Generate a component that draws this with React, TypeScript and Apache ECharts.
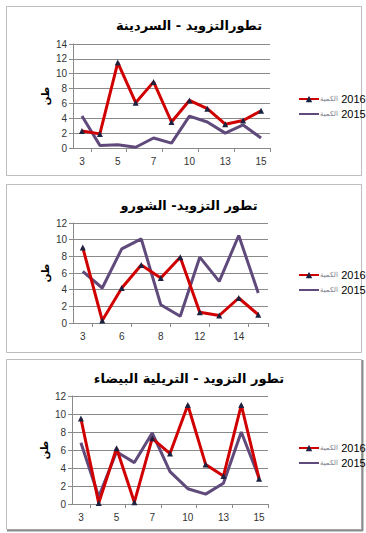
import React, { useEffect, useRef } from 'react';
import * as echarts from 'echarts';

const titles = ['تطورالتزويد - السردينة', 'تطور التزويد- الشورو', 'تطور التزويد - التريلية البيضاء'];
const seriesNames = ['الكمية 2016', 'الكمية 2015'];
const yAxisName = 'طن';

const cats1 = ['3', '4', '5', '6', '7', '9', '10', '12', '13', '14', '15'];
const s1y2016 = [2.3, 1.9, 11.5, 6.1, 8.9, 3.5, 6.4, 5.3, 3.2, 3.7, 5.0];
const s1y2015 = [4.3, 0.35, 0.45, 0.1, 1.35, 0.65, 4.3, 3.5, 2.0, 3.1, 1.35];
const y1Max = 14;

const cats2 = ['3', '5', '6', '7', '8', '10', '12', '13', '14', '15'];
const s2y2016 = [9.05, 0.3, 4.2, 6.95, 5.4, 7.9, 1.3, 0.9, 3.0, 1.0];
const s2y2015 = [6.2, 4.2, 8.9, 10.1, 2.2, 0.8, 7.9, 5.0, 10.5, 3.6];
const y2Max = 12;

const cats3 = ['3', '4', '5', '6', '7', '9', '10', '12', '13', '14', '15'];
const s3y2016 = [9.5, 0.1, 6.2, 0.2, 7.3, 5.6, 11.0, 4.4, 3.1, 11.0, 2.8];
const s3y2015 = [6.8, 0.8, 5.8, 4.6, 7.9, 3.6, 1.7, 1.1, 2.3, 8.0, 2.9];
const y3Max = 12;

const RED = '#d00000';
const PURPLE = '#5f4a7b';
const MARKER = '#1c2340';
const ARABIC_FONT = '"DejaVu Sans", sans-serif';
const NUM_FONT = 'Arial, "Liberation Sans", sans-serif';

const panels = [
  { cats: cats1, a: s1y2016, b: s1y2015, max: y1Max, grid: { left: 73, top: 44, width: 197, height: 104 }, titleY: 23, legendTop: 88, frame: [6.5, 6.5, 355, 169] },
  { cats: cats2, a: s2y2016, b: s2y2015, max: y2Max, grid: { left: 73, top: 223, width: 195, height: 100 }, titleY: 203, legendTop: 264, frame: [6.5, 184.5, 355, 168] },
  { cats: cats3, a: s3y2016, b: s3y2015, max: y3Max, grid: { left: 72, top: 396, width: 196, height: 108 }, titleY: 376, legendTop: 437, frame: [6.5, 359.5, 355, 170] },
];

export default function App() {
  const ref = useRef<HTMLDivElement>(null);
  useEffect(() => {
    document.body.style.margin = '0';
    const chart = echarts.init(ref.current!, undefined, { renderer: 'svg' });
    const option: any = {
      animation: false,
      backgroundColor: '#ffffff',
      title: panels.map((p, i) => ({
        text: titles[i],
        left: 184,
        top: p.titleY - 9,
        textAlign: 'center',
        textStyle: { fontFamily: ARABIC_FONT, fontWeight: 'bold', fontSize: 13, color: '#000' },
      })),
      legend: panels.map((p) => ({
        orient: 'vertical',
        left: 293,
        top: p.legendTop,
        itemWidth: 20,
        itemHeight: 8,
        itemGap: 3,
        data: [
          { name: seriesNames[0] },
          { name: seriesNames[1], itemStyle: { opacity: 0 } },
        ],
        formatter: (name: string) => {
          const parts = name.split(' ');
          return `{a|${parts[0]}} {b|${parts[1]}}`;
        },
        textStyle: {
          padding: [0, 0, 0, -4],
          rich: {
            a: { fontFamily: ARABIC_FONT, fontSize: 7, color: '#7a7a8a' },
            b: { fontFamily: NUM_FONT, fontSize: 11, color: '#000' },
          },
        },
      })),
      grid: panels.map((p) => ({ ...p.grid, containLabel: false })),
      xAxis: panels.map((p, i) => ({
        type: 'category',
        gridIndex: i,
        data: p.cats,
        boundaryGap: true,
        axisLine: { lineStyle: { color: '#8a8a8a', width: 1 } },
        axisTick: { show: true, length: 4, interval: (idx: number) => idx % 2 === 1, lineStyle: { color: '#8a8a8a' } },
        axisLabel: { interval: 1, margin: 8, fontFamily: NUM_FONT, fontSize: 10, color: '#333' },
        splitLine: { show: false },
      })),
      yAxis: panels.map((p, i) => ({
        type: 'value',
        gridIndex: i,
        min: 0,
        max: p.max,
        interval: 2,
        name: yAxisName,
        nameLocation: 'middle',
        nameRotate: 90,
        nameGap: 23,
        nameMoveOverlap: false,
        nameTextStyle: { fontFamily: ARABIC_FONT, fontWeight: 'bold', fontSize: 10, color: '#000' },
        axisLine: { show: true, lineStyle: { color: '#8a8a8a', width: 1 } },
        axisTick: { show: true, length: 4, lineStyle: { color: '#8a8a8a' } },
        axisLabel: { margin: 6, fontFamily: NUM_FONT, fontSize: 10, color: '#333' },
        splitLine: { show: true, lineStyle: { color: '#8a8a8a', width: 1 } },
      })),
      series: panels.flatMap((p, i) => [
        {
          name: seriesNames[1],
          type: 'line',
          xAxisIndex: i,
          yAxisIndex: i,
          data: p.b,
          symbol: 'none',
          lineStyle: { color: PURPLE, width: 3 },
          itemStyle: { color: PURPLE },
          z: 2,
        },
        {
          name: seriesNames[0],
          type: 'line',
          xAxisIndex: i,
          yAxisIndex: i,
          data: p.a,
          symbol: 'triangle',
          symbolSize: 6,
          showAllSymbol: true,
          lineStyle: { color: RED, width: 3 },
          itemStyle: { color: MARKER, borderWidth: 0 },
          z: 3,
        },
      ]),
      graphic: [
        ...panels.map((p) => ({
          type: 'rect',
          shape: { x: p.frame[0], y: p.frame[1], width: p.frame[2], height: p.frame[3] },
          style: { fill: 'none', stroke: '#bdbdbd', lineWidth: 1 },
          silent: true,
          z: -1,
        })),
        { type: 'line', shape: { x1: 7, y1: 530.5, x2: 363, y2: 530.5 }, style: { stroke: '#8c8c8c', lineWidth: 2 }, silent: true },
        { type: 'line', shape: { x1: 362.5, y1: 360, x2: 362.5, y2: 531 }, style: { stroke: '#8c8c8c', lineWidth: 2 }, silent: true },
      ],
    };
    chart.setOption(option);
    return () => chart.dispose();
  }, []);
  return <div ref={ref} style={{ position: 'absolute', left: 0, top: 0, width: 366, height: 533 }} />;
}
